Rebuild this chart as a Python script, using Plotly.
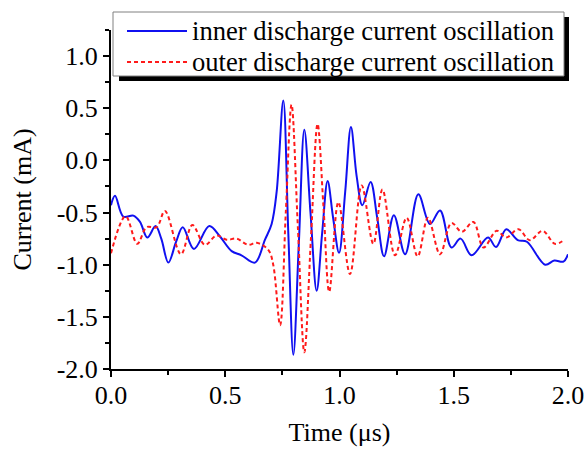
import plotly.graph_objects as go

# inner discharge current oscillation (blue, solid)
t_inner = [0.0, 0.0175, 0.054, 0.098, 0.127, 0.159, 0.195, 0.22, 0.251, 0.285, 0.314, 0.363,
           0.43, 0.477, 0.528, 0.571, 0.63, 0.674, 0.703, 0.725, 0.754, 0.776, 0.798, 0.822,
           0.846, 0.873, 0.9, 0.924, 0.948, 0.972, 0.998, 1.025, 1.05, 1.075, 1.1, 1.136,
           1.165, 1.195, 1.238, 1.287, 1.345, 1.396, 1.44, 1.49, 1.53, 1.578, 1.65, 1.685,
           1.73, 1.78, 1.82, 1.9, 1.94, 1.98, 2.0]
i_inner = [-0.43, -0.34, -0.54, -0.53, -0.59, -0.74, -0.63, -0.75, -0.98, -0.78, -0.64, -0.85,
           -0.63, -0.73, -0.87, -0.91, -0.98, -0.76, -0.61, -0.30, 0.574, -0.70, -1.864, -0.80,
           0.293, -0.50, -1.25, -0.70, -0.198, -0.55, -0.886, -0.30, 0.32, -0.15, -0.43, -0.207,
           -0.55, -0.92, -0.525, -0.90, -0.325, -0.61, -0.48, -0.835, -0.75, -0.91, -0.74, -0.83,
           -0.66, -0.765, -0.78, -1.0, -0.96, -0.97, -0.90]

# outer discharge current oscillation (red, dashed)
t_outer = [0.0, 0.064, 0.115, 0.156, 0.2, 0.236, 0.306, 0.356, 0.411, 0.462, 0.506, 0.55,
           0.60, 0.638, 0.689, 0.71, 0.74, 0.765, 0.79, 0.818, 0.846, 0.875, 0.904, 0.93,
           0.955, 0.995, 1.046, 1.097, 1.148, 1.188, 1.243, 1.294, 1.342, 1.387, 1.44, 1.49,
           1.535, 1.586, 1.63, 1.688, 1.729, 1.783, 1.833, 1.889, 1.943, 1.985]
i_outer = [-0.89, -0.535, -0.80, -0.64, -0.64, -0.485, -0.90, -0.62, -0.81, -0.72, -0.76, -0.75,
           -0.81, -0.79, -0.86, -1.0, -1.58, -0.50, 0.535, -0.65, -1.84, -0.75, 0.35, -0.45,
           -1.26, -0.40, -1.09, -0.24, -0.80, -0.28, -0.91, -0.55, -0.92, -0.55, -0.90, -0.60,
           -0.685, -0.59, -0.835, -0.675, -0.74, -0.66, -0.765, -0.675, -0.80, -0.76]

series_names = ["inner discharge current oscillation", "outer discharge current oscillation"]

x_ticks = [0.0, 0.5, 1.0, 1.5, 2.0]
y_ticks = [-2.0, -1.5, -1.0, -0.5, 0.0, 0.5, 1.0]

FONT = "Liberation Serif, Times New Roman, serif"
BLUE, RED = "#1010F0", "#FF1A1A"
RED_DASH = "4px,3px"

fig = go.Figure()
fig.add_trace(go.Scatter(x=t_inner, y=i_inner, mode="lines", name=series_names[0],
                         line=dict(color=BLUE, width=2, shape="spline", smoothing=1.0)))
fig.add_trace(go.Scatter(x=t_outer, y=i_outer, mode="lines", name=series_names[1],
                         line=dict(color=RED, width=2, dash=RED_DASH, shape="spline", smoothing=1.0)))

W, H = 587, 449
ml, mr, mt, mb = 111, 19, 30, 80
pw, ph = W - ml - mr, H - mt - mb

def px2paper(x, y):
    return (x - ml) / pw, (H - mb - y) / ph

def rect_px(x0, y0, x1, y1, **kw):
    a0, b0 = px2paper(x0, y0)
    a1, b1 = px2paper(x1, y1)
    fig.add_shape(type="rect", xref="paper", yref="paper", x0=a0, y0=b1, x1=a1, y1=b0,
                  layer="above", **kw)

def line_px(x0, x1, y, **kw):
    a0, b = px2paper(x0, y)
    a1, _ = px2paper(x1, y)
    fig.add_shape(type="line", xref="paper", yref="paper", x0=a0, y0=b, x1=a1, y1=b,
                  layer="above", **kw)

# legend box with drop shadow
rect_px(119, 17, 569, 81, fillcolor="black", line=dict(width=0))
rect_px(113, 12, 564, 76, fillcolor="white", line=dict(color="#808080", width=1))
legend_rows = [(31, BLUE, "solid"), (62, RED, RED_DASH)]
for name, (yy, col, dsh) in zip(series_names, legend_rows):
    line_px(127, 187, yy, line=dict(color=col, width=2, dash=dsh))
    ax, ay = px2paper(190, yy)
    fig.add_annotation(x=ax, y=ay, xref="paper", yref="paper", text=name, showarrow=False,
                       xanchor="left", yanchor="middle",
                       font=dict(family=FONT, size=26.6, color="black"))

axis_common = dict(showline=True, linecolor="black", linewidth=2, ticks="outside",
                   ticklen=6, tickwidth=2, tickcolor="black", showgrid=False, zeroline=False,
                   tickfont=dict(family=FONT, size=26, color="black"),
                   title_font=dict(family=FONT, size=26, color="black"),
                   mirror=False, automargin=False)

fig.update_layout(
    width=W, height=H,
    margin=dict(l=ml, r=mr, t=mt, b=mb),
    paper_bgcolor="white", plot_bgcolor="white",
    font=dict(family=FONT, color="black"),
    xaxis=dict(range=[0, 2.0], tickvals=x_ticks, ticktext=[f"{v:.1f}" for v in x_ticks],
               title=dict(text="Time (μs)", standoff=14), ticklabelstandoff=-4,
               minor=dict(dtick=0.25, tick0=0, ticks="outside", ticklen=4, tickwidth=2, tickcolor="black"),
               **axis_common),
    yaxis=dict(range=[-2.0, 1.25], tickvals=y_ticks, ticktext=[f"{v:.1f}" for v in y_ticks],
               title=dict(text="Current (mA)", standoff=18),
               minor=dict(dtick=0.25, tick0=0, ticks="outside", ticklen=4, tickwidth=2, tickcolor="black"),
               **axis_common),
    showlegend=False,
)

fig.write_html("out.html", config={"displayModeBar": False},
               post_script="document.body.style.margin='0';document.body.style.padding='0';")
